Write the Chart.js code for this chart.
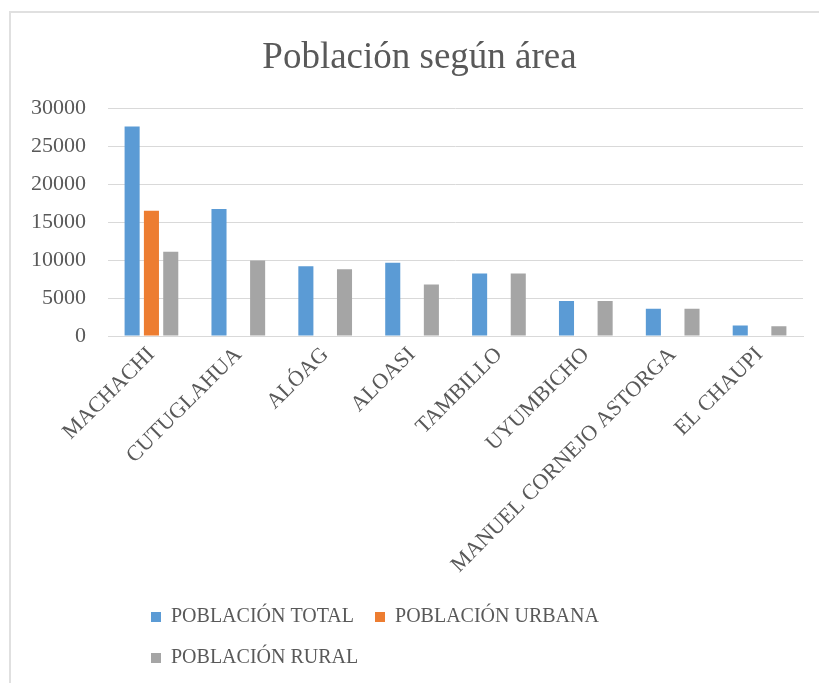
<!DOCTYPE html>
<html>
<head>
<meta charset="utf-8">
<script src="https://cdn.jsdelivr.net/npm/chart.js@4/dist/chart.umd.min.js"></script>
<style>
  html, body { margin: 0; padding: 0; background: #ffffff; overflow: hidden; }
  #wrap { position: relative; width: 819px; height: 683px; overflow: hidden; }
  #frame { position: absolute; left: 9px; top: 11px; width: 900px; height: 800px;
           border-left: 2px solid #e0e0e0; border-top: 2px solid #e0e0e0; box-sizing: border-box; }
  #c { position: absolute; left: 0; top: 0; }
</style>
</head>
<body>
<div id="wrap">
  <div id="frame"></div>
  <canvas id="c" width="819" height="683"></canvas>
</div>
<script>
const categories = ["MACHACHI", "CUTUGLAHUA", "ALÓAG", "ALOASI", "TAMBILLO", "UYUMBICHO", "MANUEL CORNEJO ASTORGA", "EL CHAUPI"];
const seriesNames = ["POBLACIÓN TOTAL", "POBLACIÓN URBANA", "POBLACIÓN RURAL"];
const poblacionTotal = [27600, 16750, 9200, 9650, 8250, 4600, 3600, 1400];
const poblacionUrbana = [16500, null, null, null, null, null, null, null];
const poblacionRural = [11100, 9950, 8800, 6800, 8250, 4600, 3600, 1270];
const yTicks = [0, 5000, 10000, 15000, 20000, 25000, 30000];
const chartTitle = "Población según área";

const FONT = "'Liberation Serif', 'Times New Roman', serif";
const TEXT = "#595959";
const GRID = "#d9d9d9";

Chart.defaults.font.family = FONT;
Chart.defaults.color = TEXT;

const blockShift = {
  id: 'blockShift',
  afterLayout(chart) {
    const lg = chart.legend;
    if (lg) { lg.left += 22; lg.right += 22; }
    const tb = chart.titleBlock;
    if (tb) { tb.left += 18; tb.right += 18; }
  }
};

new Chart(document.getElementById('c'), {
  type: 'bar',
  data: {
    labels: categories,
    datasets: [
      { label: seriesNames[0], data: poblacionTotal, backgroundColor: '#5b9bd5' },
      { label: seriesNames[1], data: poblacionUrbana, backgroundColor: '#ed7d31' },
      { label: seriesNames[2], data: poblacionRural, backgroundColor: '#a5a5a5' }
    ]
  },
  options: {
    responsive: false,
    animation: false,
    devicePixelRatio: 1,
    layout: { padding: { left: 0, right: 16, top: 0, bottom: 5 } },
    datasets: { bar: { categoryPercentage: 0.667, barPercentage: 0.78, borderWidth: 0 } },
    plugins: {
      title: {
        display: true, text: chartTitle, color: TEXT,
        font: { family: FONT, size: 37, weight: 'normal' },
        padding: { top: 36, bottom: 28 }
      },
      legend: {
        position: 'bottom', align: 'start', fullSize: false,
        labels: { color: TEXT, font: { family: FONT, size: 20, weight: 'normal' }, boxWidth: 10, boxHeight: 10, padding: 21 }
      },
      tooltip: { enabled: false }
    },
    scales: {
      x: {
        grid: { display: false, drawTicks: false },
        border: { display: true, color: GRID, width: 1 },
        ticks: { color: TEXT, font: { family: FONT, size: 22 }, minRotation: 45, maxRotation: 45, autoSkip: false, padding: 6 },
        afterFit(axis) { axis.height = 250; }
      },
      y: {
        min: 0, max: 30000,
        afterBuildTicks(axis) { axis.ticks = yTicks.map(v => ({ value: v })); },
        grid: { color: GRID, lineWidth: 1, drawTicks: false },
        border: { display: false },
        ticks: { color: TEXT, font: { family: FONT, size: 22 }, padding: 22, callback: (v) => String(v) },
        afterFit(axis) { axis.width = 108; }
      }
    }
  },
  plugins: [blockShift]
});
</script>
</body>
</html>
